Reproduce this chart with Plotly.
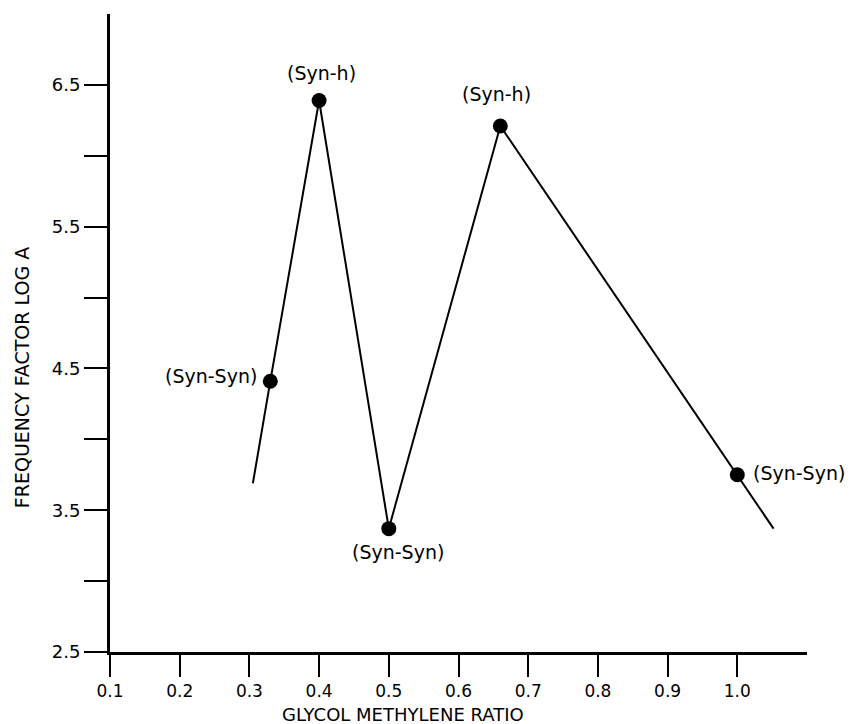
import plotly.graph_objects as go

# Data
ratio = [0.33, 0.40, 0.50, 0.66, 1.00]
log_a = [4.41, 6.39, 3.37, 6.21, 3.75]
point_labels = ["(Syn-Syn)", "(Syn-h)", "(Syn-Syn)", "(Syn-h)", "(Syn-Syn)"]

# connecting line, extended slightly beyond the first and last points
line_x = [0.305, 0.33, 0.40, 0.50, 0.66, 1.00, 1.052]
line_y = [3.69, 4.41, 6.39, 3.37, 6.21, 3.75, 3.37]

x_ticks = [0.1, 0.2, 0.3, 0.4, 0.5, 0.6, 0.7, 0.8, 0.9, 1.0]
x_ticktext = ["0.1", "0.2", "0.3", "0.4", "0.5", "0.6", "0.7", "0.8", "0.9", "1.0"]
y_ticks = [2.5, 3.0, 3.5, 4.0, 4.5, 5.0, 5.5, 6.0, 6.5]
y_ticktext = ["2.5", "", "3.5", "", "4.5", "", "5.5", "", "6.5"]

FONT = "DejaVu Sans"

fig = go.Figure()
fig.add_trace(go.Scatter(x=line_x, y=line_y, mode="lines",
                         line=dict(color="black", width=2), showlegend=False,
                         hoverinfo="skip"))
fig.add_trace(go.Scatter(x=ratio, y=log_a, mode="markers",
                         marker=dict(color="black", size=15), showlegend=False))

# label offsets (pixels) relative to each point
offsets = [
    dict(xanchor="right", xshift=-11, yshift=5),
    dict(xanchor="center", xshift=2, yshift=27),
    dict(xanchor="center", xshift=9, yshift=-23),
    dict(xanchor="center", xshift=-4, yshift=32),
    dict(xanchor="left", xshift=14, yshift=2),
]
for xv, yv, txt, off in zip(ratio, log_a, point_labels, offsets):
    fig.add_annotation(x=xv, y=yv, xref="x", yref="y", text=txt, showarrow=False,
                       yanchor="middle", font=dict(family=FONT, size=19, color="black"),
                       **off)

fig.add_annotation(text="FREQUENCY FACTOR LOG A", xref="paper", yref="paper",
                   x=-0.127, y=0.43, xanchor="center", yanchor="middle",
                   textangle=-90, showarrow=False,
                   font=dict(family=FONT, size=19, color="black"))

fig.add_annotation(text="GLYCOL METHYLENE RATIO", xref="paper", yref="paper",
                   x=0.42, y=-0.079, xanchor="center", yanchor="top",
                   showarrow=False, font=dict(family=FONT, size=18, color="black"))

fig.update_layout(
    width=851, height=716,
    margin=dict(l=102, r=52, t=6, b=72, pad=0),
    paper_bgcolor="white", plot_bgcolor="white",
    font=dict(family=FONT, size=17, color="black"),
    xaxis=dict(range=[0.1, 1.1], tickmode="array", tickvals=x_ticks, ticktext=x_ticktext,
               showgrid=False, zeroline=False, showline=True, linecolor="black",
               linewidth=2.5, ticks="outside", ticklen=22, tickwidth=1.5,
               tickcolor="black", tickfont=dict(family=FONT, size=17)),
    yaxis=dict(range=[2.5, 7.0], tickmode="array", tickvals=y_ticks, ticktext=y_ticktext,
               showgrid=False, zeroline=False, showline=True, linecolor="black",
               linewidth=3, ticks="outside", ticklen=23, tickwidth=1.5,
               tickcolor="black", tickfont=dict(family=FONT, size=18)),
)

fig.write_html("out.html")
